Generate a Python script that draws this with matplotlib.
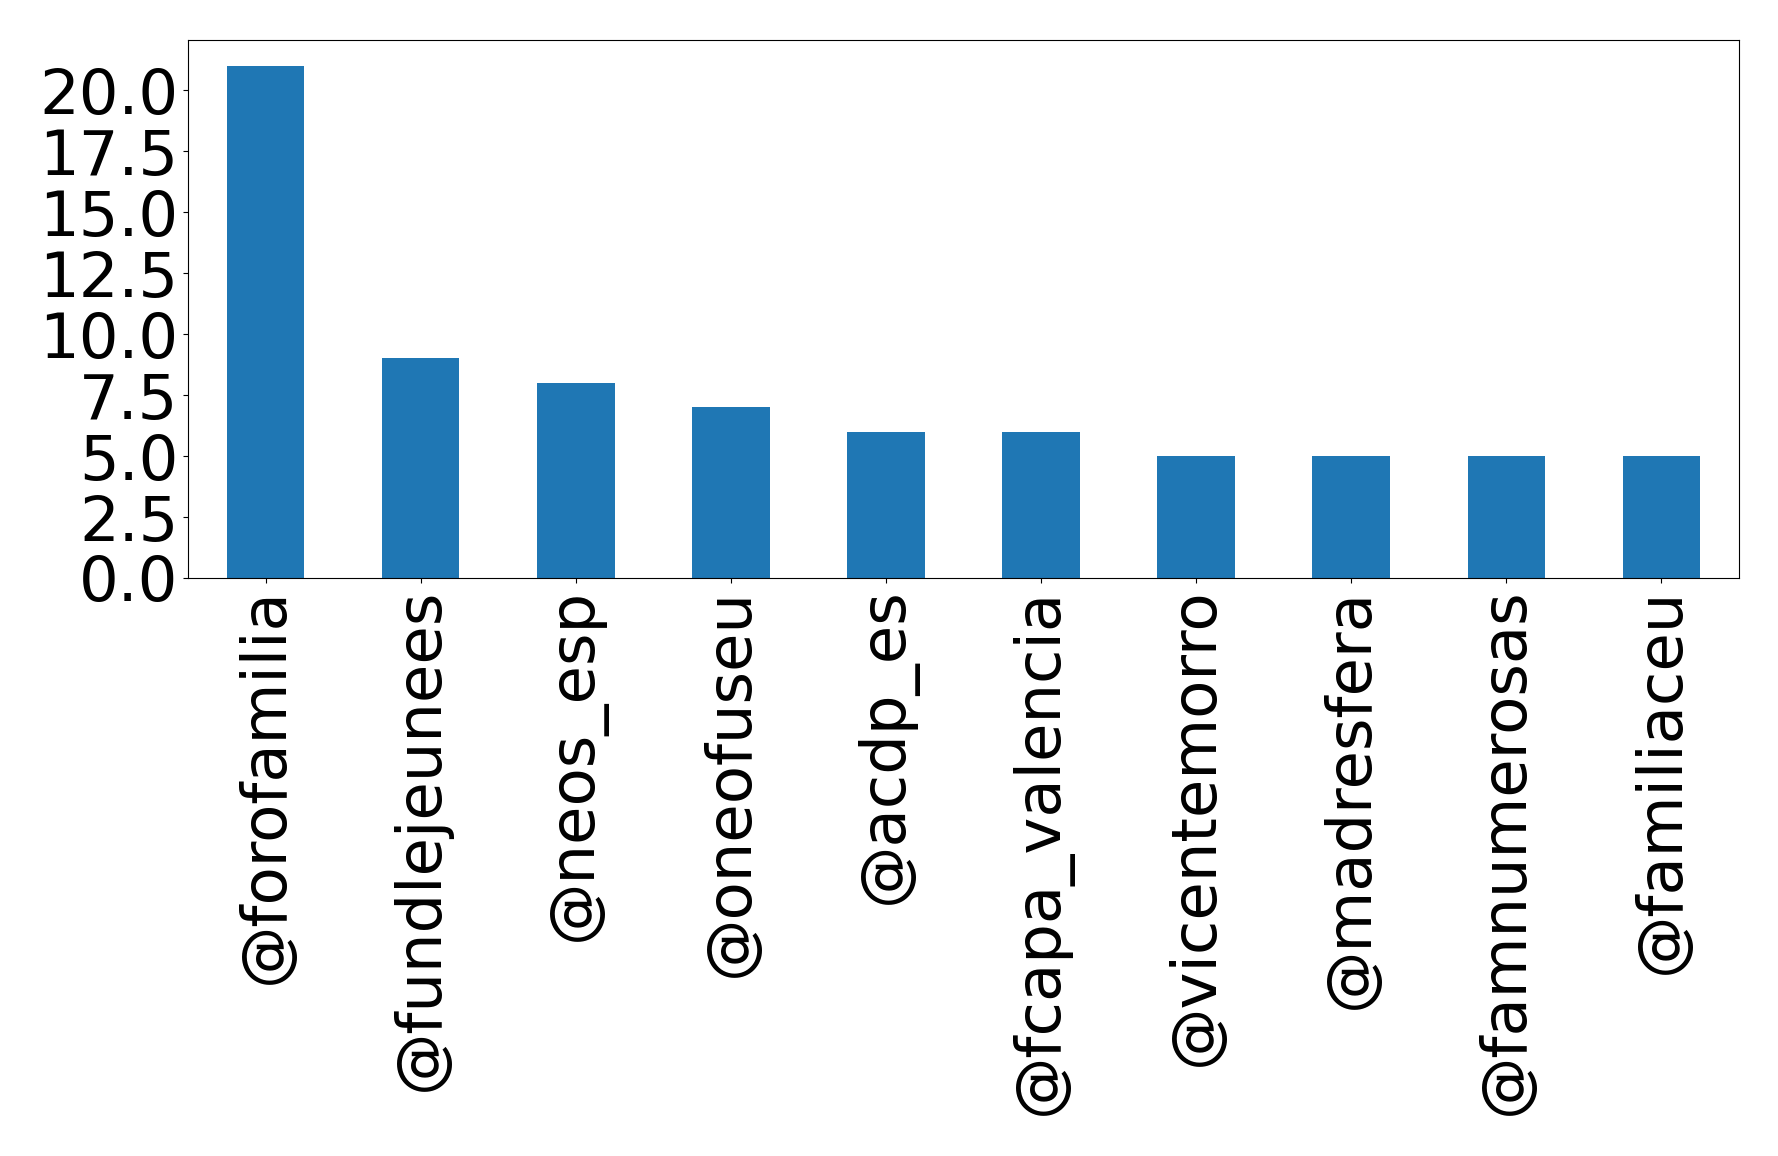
import matplotlib
matplotlib.use("Agg")
import matplotlib.pyplot as plt
import numpy as np

labels = ["@forofamilia", "@fundlejeunees", "@neos_esp", "@oneofuseu", "@acdp_es",
          "@fcapa_valencia", "@vicentemorro", "@madresfera", "@famnumerosas", "@familiaceu"]
values = [21, 9, 8, 7, 6, 6, 5, 5, 5, 5]

fig = plt.figure(figsize=(17.78, 11.56), dpi=100)
ax = fig.add_axes([188/1778, 1 - 578/1156, (1739-188)/1778, (578-40)/1156])
x = np.arange(len(values))
ax.bar(x, values, width=0.5, color="#1f77b4")
ax.set_xlim(-0.5, len(values) - 0.5)
ax.set_ylim(0, 22.05)
ax.set_yticks(np.arange(0, 22.5, 2.5))
ax.set_yticklabels([f"{v:.1f}" for v in np.arange(0, 22.5, 2.5)])
ax.set_xticks(x)
ax.set_xticklabels(labels, rotation=90)
ax.tick_params(labelsize=45)
fig.savefig("out.png", dpi=100)
